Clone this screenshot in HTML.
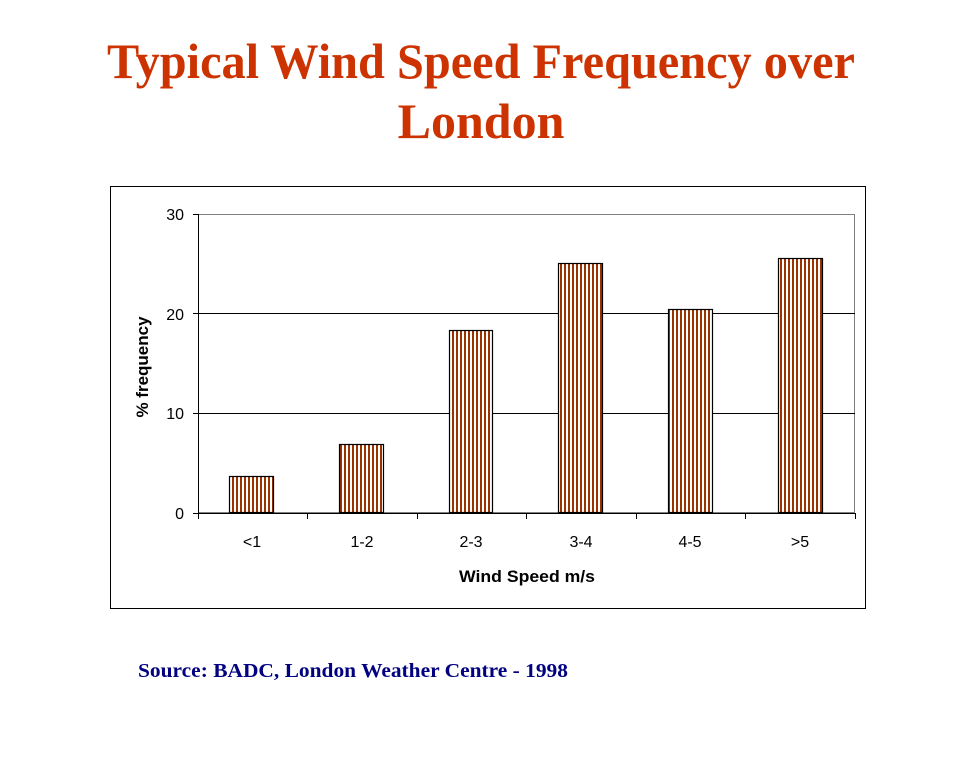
<!DOCTYPE html>
<html><head><meta charset="utf-8"><style>
html,body{margin:0;padding:0;background:#fff;}
svg{display:block;}
</style></head><body>
<svg width="960" height="768" viewBox="0 0 960 768" xmlns="http://www.w3.org/2000/svg">
<defs>
<pattern id="st" patternUnits="userSpaceOnUse" width="4" height="4">
<rect x="0" y="0" width="4" height="4" fill="#fff"/>
<rect x="0" y="0" width="2" height="4" fill="#993300"/>
</pattern>
</defs>
<g font-family="Liberation Serif, serif" font-weight="bold" fill="#CC3300" font-size="50" text-anchor="middle">
<text x="481" y="78" textLength="748" lengthAdjust="spacingAndGlyphs">Typical Wind Speed Frequency over</text>
<text x="481" y="138">London</text>
</g>
<rect x="110.5" y="186.5" width="755" height="422" fill="#fff" stroke="#000" stroke-width="1"/>
<rect x="198.5" y="214.5" width="656" height="298" fill="none" stroke="#808080" stroke-width="1"/>
<line x1="198" y1="413.5" x2="855" y2="413.5" stroke="#000"/>
<line x1="198" y1="313.5" x2="855" y2="313.5" stroke="#000"/>
<g stroke="#000" stroke-width="1.2" fill="url(#st)">
<rect x="229.5" y="476.5" width="44" height="36"/>
<rect x="339.5" y="444.5" width="44" height="68"/>
<rect x="449.5" y="330.5" width="43" height="182"/>
<rect x="558.5" y="263.5" width="44" height="249"/>
<rect x="668.5" y="309.5" width="44" height="203"/>
<rect x="778.5" y="258.5" width="44" height="254"/>
</g>
<g stroke="#000" stroke-width="1">
<line x1="198.5" y1="214" x2="198.5" y2="513"/>
<line x1="193" y1="513.5" x2="855" y2="513.5"/>
<line x1="193" y1="214.5" x2="198" y2="214.5"/>
<line x1="193" y1="313.5" x2="198" y2="313.5"/>
<line x1="193" y1="413.5" x2="198" y2="413.5"/>
<line x1="198.5" y1="513" x2="198.5" y2="519"/>
<line x1="307.5" y1="513" x2="307.5" y2="519"/>
<line x1="417.5" y1="513" x2="417.5" y2="519"/>
<line x1="526.5" y1="513" x2="526.5" y2="519"/>
<line x1="636.5" y1="513" x2="636.5" y2="519"/>
<line x1="745.5" y1="513" x2="745.5" y2="519"/>
<line x1="855.5" y1="513" x2="855.5" y2="519"/>
</g>
<g font-family="Liberation Sans, sans-serif" font-size="16" fill="#000">
<g text-anchor="end">
<text x="184" y="220">30</text>
<text x="184" y="320">20</text>
<text x="184" y="419">10</text>
<text x="184" y="519">0</text>
</g>
<g text-anchor="middle">
<text x="252" y="547">&lt;1</text>
<text x="362" y="547">1-2</text>
<text x="471" y="547">2-3</text>
<text x="581" y="547">3-4</text>
<text x="690" y="547">4-5</text>
<text x="800" y="547">&gt;5</text>
<text x="527" y="582" font-weight="bold" font-size="17" textLength="136" lengthAdjust="spacingAndGlyphs">Wind Speed m/s</text>
<text transform="translate(148,367) rotate(-90)" font-weight="bold" font-size="17">% frequency</text>
</g>
</g>
<text x="138" y="677" font-family="Liberation Serif, serif" font-weight="bold" font-size="20" fill="#000080" textLength="430" lengthAdjust="spacingAndGlyphs">Source: BADC, London Weather Centre - 1998</text>
</svg>
</body></html>
